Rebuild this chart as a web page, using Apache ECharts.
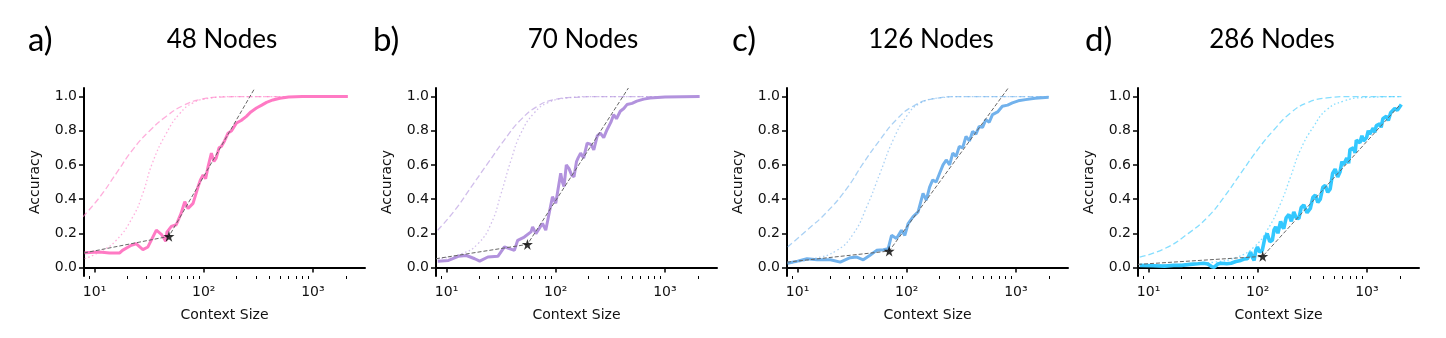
<!DOCTYPE html>
<html>
<head>
<meta charset="utf-8">
<script src="https://cdn.jsdelivr.net/npm/echarts@6/dist/echarts.min.js"></script>
<style>
  html, body { margin: 0; padding: 0; background: #fff; }
  #main { width: 1446px; height: 338px; }
</style>
</head>
<body>
<div id="main"></div>
<script>
// panel titles and letters
const panelTitles = ['48 Nodes', '70 Nodes', '126 Nodes', '286 Nodes']
const panelLetters = ['a)', 'b)', 'c)', 'd)']
const colors = ['#ff7ac4', '#b292dd', '#72b2ec', '#33c8ff']

// tick labels
const xTickValues = [10, 100, 1000]
const xTickLabels = ['10¹', '10²', '10³']
const yTickValues = [0, 0.2, 0.4, 0.6, 0.8, 1.0]
const yTickLabels = ['0.0', '0.2', '0.4', '0.6', '0.8', '1.0']

// measured accuracy, [context size, accuracy]
const acc48 = [[8.1, 0.086], [11.1, 0.09], [13.7, 0.085], [17, 0.085], [18, 0.1], [21.7, 0.13], [24, 0.139], [27.7, 0.104], [30.8, 0.12], [36.8, 0.218], [40.9, 0.194], [44.8, 0.153], [46, 0.207], [50.5, 0.24], [56, 0.25], [62, 0.316], [67, 0.385], [71.8, 0.345], [79.8, 0.375], [88.7, 0.472], [93, 0.51], [98.6, 0.541], [104, 0.52], [109.6, 0.59], [117.5, 0.669], [124, 0.62], [130, 0.64], [138, 0.7], [145, 0.708], [155, 0.74], [167, 0.786], [180, 0.8], [199.5, 0.845], [220, 0.86], [246, 0.884], [270, 0.91], [304, 0.933], [340, 0.95], [376, 0.966], [430, 0.98], [498, 0.99], [600, 0.997], [800, 1.0], [2090, 1.0]]
const acc70 = [[8.3, 0.037], [10.4, 0.041], [12.8, 0.065], [15.2, 0.07], [18.1, 0.051], [20.1, 0.037], [23.9, 0.061], [29.5, 0.065], [33.9, 0.12], [37.6, 0.11], [41.8, 0.1], [44.8, 0.159], [51.5, 0.178], [59.3, 0.208], [61.4, 0.237], [65.8, 0.198], [75.6, 0.257], [81, 0.218], [93.3, 0.414], [100, 0.375], [111, 0.551], [115, 0.5], [119, 0.473], [125, 0.6], [132, 0.58], [140, 0.54], [147, 0.531], [155, 0.62], [160, 0.64], [169, 0.669], [180, 0.64], [194, 0.727], [210, 0.72], [223, 0.688], [240, 0.77], [256, 0.786], [275, 0.76], [295, 0.806], [320, 0.85], [339, 0.894], [360, 0.87], [390, 0.914], [420, 0.93], [449, 0.953], [500, 0.96], [553, 0.973], [640, 0.985], [731, 0.992], [1000, 0.998], [2080, 1.0]]
const acc126 = [[8.1, 0.025], [10, 0.037], [12.2, 0.051], [15.1, 0.045], [20, 0.045], [24.6, 0.031], [30.3, 0.057], [34.9, 0.061], [40, 0.045], [46.1, 0.071], [53, 0.1], [61, 0.104], [67.6, 0.11], [72.6, 0.188], [80.5, 0.169], [89.5, 0.218], [96, 0.188], [103, 0.257], [114, 0.296], [127, 0.325], [141, 0.433], [151, 0.394], [162, 0.47], [173, 0.512], [186, 0.5], [200, 0.551], [215, 0.6], [230, 0.629], [247, 0.6], [264, 0.669], [283, 0.65], [303, 0.708], [325, 0.7], [349, 0.767], [375, 0.74], [401, 0.796], [430, 0.78], [461, 0.825], [495, 0.82], [530, 0.865], [570, 0.85], [610, 0.894], [680, 0.91], [751, 0.943], [840, 0.95], [927, 0.963], [1050, 0.975], [1224, 0.982], [1500, 0.99], [1995, 0.996]]
const acc286 = [[8.3, 0.012], [11, 0.01], [14, 0.008], [17, 0.012], [20, 0.012], [24, 0.018], [28.3, 0.022], [32, 0.025], [34.9, 0.02], [38, 0.004], [40, 0.002], [43, 0.02], [46, 0.025], [52, 0.022], [57, 0.025], [63, 0.035], [70, 0.041], [76, 0.05], [80.5, 0.051], [86, 0.09], [89, 0.06], [92.6, 0.041], [96, 0.1], [99.4, 0.12], [104, 0.09], [110, 0.1], [116, 0.17], [122, 0.198], [129, 0.15], [136, 0.159], [141, 0.22], [146, 0.237], [153, 0.2], [162, 0.27], [168, 0.24], [173, 0.227], [182, 0.29], [193, 0.31], [203, 0.27], [214, 0.325], [225, 0.29], [238, 0.286], [250, 0.35], [264, 0.365], [283, 0.32], [303, 0.345], [320, 0.41], [337, 0.423], [355, 0.38], [374, 0.4], [395, 0.47], [415, 0.48], [438, 0.44], [461, 0.46], [485, 0.55], [512, 0.575], [540, 0.53], [568, 0.56], [590, 0.62], [610, 0.6], [654, 0.64], [680, 0.61], [700, 0.69], [751, 0.7], [780, 0.67], [800, 0.745], [863, 0.73], [900, 0.77], [930, 0.74], [993, 0.76], [1030, 0.8], [1060, 0.78], [1142, 0.815], [1180, 0.79], [1220, 0.83], [1313, 0.84], [1350, 0.82], [1400, 0.87], [1510, 0.885], [1570, 0.86], [1650, 0.905], [1720, 0.9], [1798, 0.93], [1900, 0.92], [2066, 0.953]]

// dashed reference curves
const dash48 = [[7.8, 0.296], [11.1, 0.41], [15.8, 0.55], [22.4, 0.69], [32, 0.8], [45.5, 0.885], [64.6, 0.947], [92, 0.982], [140, 0.997], [250, 1.0], [2000, 1.0]]
const dash70 = [[8.3, 0.218], [11.9, 0.335], [16.9, 0.473], [23.9, 0.61], [33.9, 0.747], [48, 0.865], [68, 0.943], [96.6, 0.982], [157, 0.996], [300, 1.0], [2000, 1.0]]
const dash126 = [[8.1, 0.12], [12.2, 0.218], [18.6, 0.325], [28.3, 0.463], [40, 0.61], [56.9, 0.747], [80.5, 0.865], [114, 0.943], [173, 0.986], [303, 1.0], [2000, 1.0]]
const dash286 = [[8.3, 0.061], [14, 0.11], [23, 0.198], [34.9, 0.296], [49.4, 0.414], [70, 0.551], [99.4, 0.688], [141, 0.806], [200, 0.904], [283, 0.963], [430, 0.992], [700, 1.0], [2066, 1.0]]

// dotted reference curves
const dot48 = [[8.1, 0.051], [11.1, 0.09], [15.8, 0.159], [22.4, 0.296], [27.7, 0.434], [33.8, 0.61], [45.5, 0.786], [60.2, 0.9], [79.8, 0.963], [113, 0.99], [180, 1.0], [2000, 1.0]]
const dot70 = [[8.3, 0.051], [13.7, 0.08], [19.4, 0.139], [25.6, 0.257], [31.6, 0.433], [39, 0.629], [48, 0.786], [63.5, 0.904], [84, 0.963], [128, 0.992], [220, 1.0], [2000, 1.0]]
const dot126 = [[8.1, 0.022], [14, 0.051], [22.9, 0.1], [32.5, 0.198], [43, 0.355], [56.9, 0.551], [75.2, 0.747], [99.4, 0.884], [131, 0.959], [200, 0.992], [330, 1.0], [2000, 1.0]]
const dot286 = [[8.3, 0.012], [20, 0.018], [40, 0.031], [65, 0.061], [92.6, 0.12], [122, 0.218], [162, 0.375], [200, 0.531], [246, 0.688], [325, 0.825], [430, 0.924], [610, 0.973], [927, 0.994], [2066, 1.0]]

// fitted piecewise lines: start, transition (star), end
const fit48 = [[8, 0.085], [48, 0.182], [294, 1.05]]
const fit70 = [[8, 0.051], [55, 0.135], [463, 1.05]]
const fit126 = [[8, 0.031], [69, 0.096], [851, 1.05]]
const fit286 = [[8, 0.018], [111, 0.065], [2000, 0.95]]

const mainData = [acc48, acc70, acc126, acc286]
const dashData = [dash48, dash70, dash126, dash286]
const dotData = [dot48, dot70, dot126, dot286]
const fitData = [fit48, fit70, fit126, fit286]

const gridLefts = [84, 436, 787, 1138]
const titleX = [222, 583, 931, 1272]
const letterX = [28, 373, 732, 1085]
const mainWidths = [3, 3, 3, 3.6]

const xMin = Math.log10(8)
const xMax = Math.log10(3000)
const star = 'path://M50,0 L61,35 L98,35 L68,57 L79,91 L50,70 L21,91 L32,57 L2,35 L39,35 Z'

const toLog = arr => arr.map(p => [Math.log10(p[0]), p[1]])

const minorTicks = []
;[1, 10, 100, 1000].forEach(d => {
  for (let k = 2; k <= 9; k++) {
    const v = Math.log10(k * d)
    if (v > xMin && v < xMax) minorTicks.push(v)
  }
})

const chart = echarts.init(document.getElementById('main'))

const grid = []
const xAxis = []
const yAxis = []
const series = []
const graphic = []

for (let i = 0; i < 4; i++) {
  grid.push({ left: gridLefts[i], top: 88, width: 281, height: 188 })

  // main x axis with decade labels
  xAxis.push({
    type: 'value',
    gridIndex: i,
    min: xMin,
    max: xMax,
    name: 'Context Size',
    nameLocation: 'middle',
    nameGap: 32,
    nameTextStyle: { fontFamily: 'DejaVu Sans', fontSize: 14, color: '#111' },
    axisLine: { show: true, lineStyle: { color: '#000', width: 2 } },
    axisTick: { show: true, length: 5, lineStyle: { color: '#000', width: 1.5 }, customValues: xTickValues.map(v => Math.log10(v)) },
    axisLabel: {
      margin: 9,
      fontFamily: 'DejaVu Sans',
      fontSize: 14,
      color: '#111',
      customValues: xTickValues.map(v => Math.log10(v)),
      formatter: v => xTickLabels[Math.round(v) - 1]
    },
    splitLine: { show: false }
  })
  // minor ticks
  xAxis.push({
    type: 'value',
    gridIndex: i,
    min: xMin,
    max: xMax,
    position: 'bottom',
    axisLine: { show: false },
    axisTick: { show: true, length: 3, lineStyle: { color: '#000', width: 1 }, customValues: minorTicks },
    axisLabel: { show: false },
    splitLine: { show: false }
  })

  yAxis.push({
    type: 'value',
    gridIndex: i,
    min: -0.05,
    max: 1.05,
    name: 'Accuracy',
    nameLocation: 'middle',
    nameGap: 42,
    nameRotate: 90,
    nameTextStyle: { fontFamily: 'DejaVu Sans', fontSize: 14, color: '#111' },
    axisLine: { show: true, lineStyle: { color: '#000', width: 2 } },
    axisTick: { show: true, length: 5, lineStyle: { color: '#000', width: 1.5 }, customValues: yTickValues },
    axisLabel: {
      margin: 7,
      fontFamily: 'DejaVu Sans',
      fontSize: 14,
      color: '#111',
      customValues: yTickValues,
      formatter: v => yTickLabels[Math.round(v * 5)]
    },
    splitLine: { show: false }
  })

  const xi = i * 2
  series.push({
    type: 'line', xAxisIndex: xi, yAxisIndex: i, data: toLog(dashData[i]),
    smooth: true, showSymbol: false, silent: true,
    lineStyle: { color: colors[i], width: 1.3, type: [6, 3], opacity: 0.6 }
  })
  series.push({
    type: 'line', xAxisIndex: xi, yAxisIndex: i, data: toLog(dotData[i]),
    smooth: true, showSymbol: false, silent: true,
    lineStyle: { color: colors[i], width: 1.3, type: [1.5, 2.5], opacity: 0.6 }
  })
  series.push({
    type: 'line', xAxisIndex: xi, yAxisIndex: i, data: toLog(mainData[i]),
    showSymbol: false, silent: true,
    lineStyle: { color: colors[i], width: mainWidths[i] }
  })
  series.push({
    type: 'line', xAxisIndex: xi, yAxisIndex: i, data: toLog(fitData[i]),
    showSymbol: false, silent: true, z: 5,
    lineStyle: { color: '#666', width: 1, type: [4, 2] }
  })
  series.push({
    type: 'scatter', xAxisIndex: xi, yAxisIndex: i, data: [toLog(fitData[i])[1]],
    symbol: star, symbolSize: 11, z: 6, silent: true,
    itemStyle: { color: '#000' }
  })

  graphic.push({
    type: 'text', x: titleX[i], y: 40,
    style: { text: panelTitles[i], fontFamily: 'Lato', fontSize: 26, fill: '#000', align: 'center', verticalAlign: 'middle' }
  })
  graphic.push({
    type: 'text', x: letterX[i], y: 40,
    style: { text: panelLetters[i], fontFamily: 'Lato', fontSize: 33, fill: '#000', align: 'left', verticalAlign: 'middle' }
  })
}

chart.setOption({
  animation: false,
  grid,
  xAxis,
  yAxis,
  series,
  graphic
})
</script>
</body>
</html>
